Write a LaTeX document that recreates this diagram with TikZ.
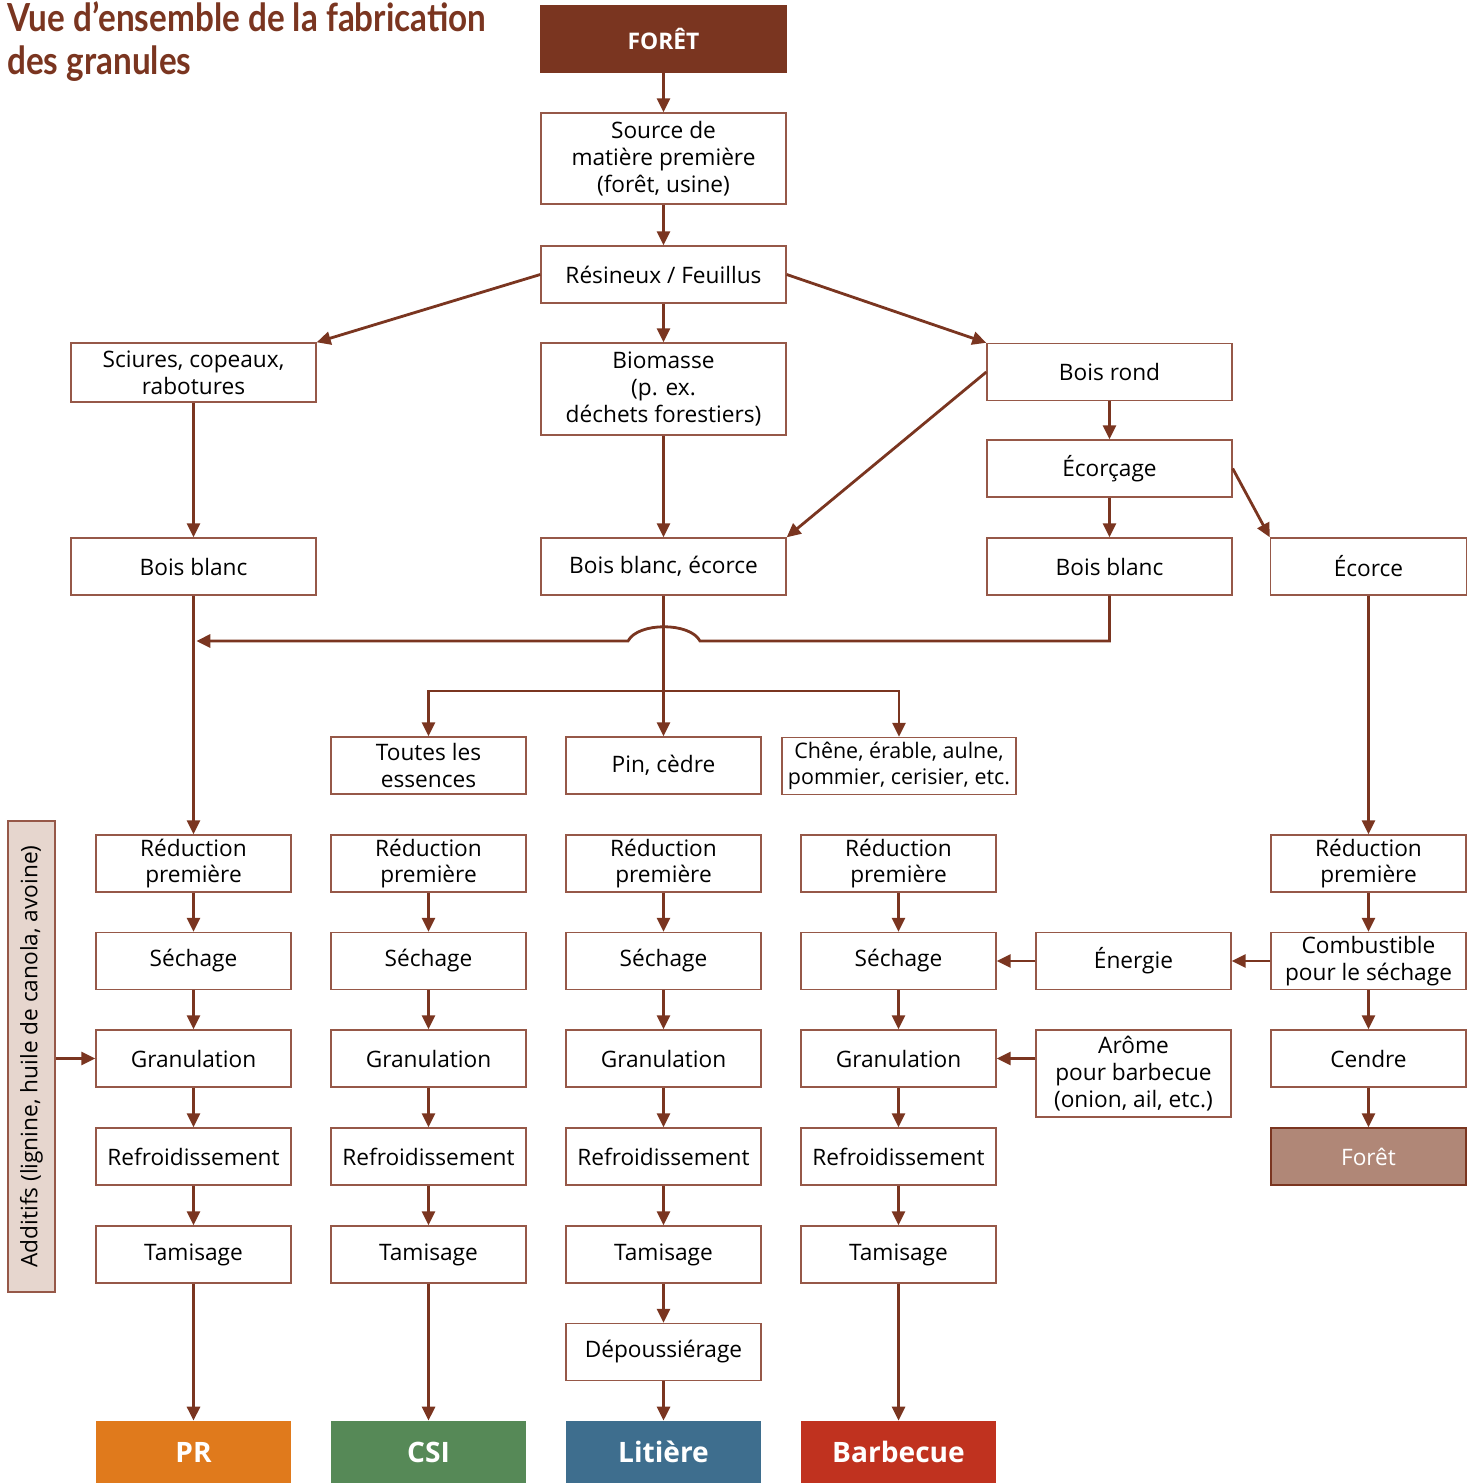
\documentclass[tikz,border=0pt]{standalone}
\usepackage{fontspec}
\setmainfont{Open Sans}
\newfontfamily\titlefont[FakeStretch=0.86]{Lato}
\usetikzlibrary{arrows.meta,positioning,calc}
\definecolor{rustbrown}{RGB}{122,53,32}
\definecolor{boxedge}{RGB}{150,88,72}
\definecolor{forestpink}{RGB}{176,135,119}
\definecolor{additan}{RGB}{230,214,206}
\definecolor{prorange}{RGB}{224,122,28}
\definecolor{csigreen}{RGB}{86,137,87}
\definecolor{litblue}{RGB}{62,110,142}
\definecolor{bbqred}{RGB}{192,50,31}
\tikzset{
    % Process box
    procbox/.style={draw=boxedge,line width=0.8pt,fill=white,minimum width=3.9cm,minimum height=1.14cm,align=center,inner sep=2pt,font=\fontsize{12.9}{15.2}\selectfont},
    % Wide process box
    widebox/.style={procbox,minimum width=4.9cm},
    % Final product box
    endbox/.style={minimum width=3.9cm,minimum height=1.24cm,inner sep=0pt,font=\fontsize{16}{18}\selectfont\bfseries,text=white},
    % Flow arrow
    flow/.style={-{Triangle[length=0.28cm,width=0.26cm]},line width=1.6pt,rustbrown}
}

\begin{document}
\begin{tikzpicture}[x=0.02cm,y=-0.02cm]
    \useasboundingbox (0,0) rectangle (1476,1483);

    % Title
    \node[anchor=north west,inner sep=0pt,align=left,text=rustbrown,font=\titlefont\fontsize{22}{24.5}\selectfont\bfseries] (title) at (7,1) {Vue d’ensemble de la fabrication\\des granules};

    % Upper part
    \node[widebox,fill=rustbrown,draw=rustbrown,text=white,minimum height=1.32cm,font=\fontsize{13}{15}\selectfont\bfseries] (foret) at (663.5,39) {FORÊT};
    \node[widebox,minimum height=1.82cm] (source) at (663.5,158.5) {Source de\\matière première\\(forêt, usine)};
    \node[widebox] (resineux) at (663.5,274.5) {Résineux / Feuillus};
    \node[widebox,minimum height=1.18cm] (sciures) at (193.5,372.5) {Sciures, copeaux,\\rabotures};
    \node[widebox,minimum height=1.84cm] (biomasse) at (663.5,389) {Biomasse\\(p. ex.\\déchets forestiers)};
    \node[widebox] (boisrond) at (1109.5,372) {Bois rond};
    \node[widebox] (ecorcage) at (1109.5,468.5) {Écorçage};
    \node[widebox] (bbl) at (193.5,566.5) {Bois blanc};
    \node[widebox] (bbe) at (663.5,566.5) {Bois blanc, écorce};
    \node[widebox] (bbr) at (1109.5,566.5) {Bois blanc};
    \node[procbox,minimum width=3.92cm] (ecorce) at (1368.5,566.5) {Écorce};

    \draw[flow] (foret) -- (source);
    \draw[flow] (source) -- (resineux);
    \draw[flow] (resineux) -- (biomasse);
    \draw[flow] (resineux.west) -- (sciures.north east);
    \draw[flow] (resineux.east) -- (boisrond.north west);
    \draw[flow] (boisrond.west) -- (bbe.north east);
    \draw[flow] (ecorcage.east) -- (ecorce.north west);
    \draw[flow] (boisrond) -- (ecorcage);
    \draw[flow] (ecorcage) -- (bbr);
    \draw[flow] (sciures) -- (bbl);
    \draw[flow] (biomasse) -- (bbe);

    % Species
    \node[procbox] (toutes) at (428.5,765.5) {Toutes les\\essences};
    \node[procbox] (pin) at (663.5,765.5) {Pin, cèdre};
    \node[procbox,minimum width=4.68cm,font=\fontsize{12.2}{15.2}\selectfont] (chene) at (899,766) {Chêne, érable, aulne,\\pommier, cerisier, etc.};

    % Four processing columns
    \foreach \c/\x in {1/193.5,2/428.5,3/663.5,4/898.5}{
        \node[procbox] (red\c) at (\x,863.5) {Réduction\\première};
        \node[procbox] (sech\c) at (\x,961) {Séchage};
        \node[procbox] (gran\c) at (\x,1058.5) {Granulation};
        \node[procbox] (refr\c) at (\x,1156.5) {Refroidissement};
        \node[procbox] (tam\c) at (\x,1254.5) {Tamisage};
        \draw[flow] (red\c) -- (sech\c);
        \draw[flow] (sech\c) -- (gran\c);
        \draw[flow] (gran\c) -- (refr\c);
        \draw[flow] (refr\c) -- (tam\c);
    }
    \node[procbox] (depous) at (663.5,1352) {Dépoussiérage};
    \draw[flow] (tam3) -- (depous);

    % Products
    \node[endbox,fill=prorange] (pr) at (193.5,1452) {PR};
    \node[endbox,fill=csigreen] (csi) at (428.5,1452) {CSI};
    \node[endbox,fill=litblue] (litiere) at (663.5,1452) {Litière};
    \node[endbox,fill=bbqred] (bbq) at (898.5,1452) {Barbecue};
    \draw[flow] (tam1) -- (pr);
    \draw[flow] (tam2) -- (csi);
    \draw[flow] (depous) -- (litiere);
    \draw[flow] (tam4) -- (bbq);

    % Bark column
    \node[procbox] (red6) at (1368.5,863.5) {Réduction\\première};
    \node[procbox] (combust) at (1368.5,961) {Combustible\\pour le séchage};
    \node[procbox] (cendre) at (1368.5,1058.5) {Cendre};
    \node[procbox,fill=forestpink,draw=rustbrown,text=white] (foret2) at (1368.5,1156.5) {Forêt};
    \node[procbox] (energie) at (1133.5,961) {Énergie};
    \node[procbox,minimum height=1.74cm] (arome) at (1133.5,1073.5) {Arôme\\pour barbecue\\(onion, ail, etc.)};
    \draw[flow] (ecorce) -- (red6);
    \draw[flow] (red6) -- (combust);
    \draw[flow] (combust) -- (cendre);
    \draw[flow] (cendre) -- (foret2);
    \draw[flow] (combust) -- (energie);
    \draw[flow] (energie) -- (sech4);
    \draw[flow] (arome.west |- gran4) -- (gran4.east);

    % Additives
    \node[procbox,fill=additan,rotate=90,minimum width=9.42cm,minimum height=0.94cm] (additifs) at (31.5,1056.5) {Additifs (lignine, huile de canola, avoine)};
    \draw[flow] (additifs.south |- gran1) -- (gran1.west);

    % Main links with hop-over
    \coordinate (hopR) at (700,641);
    \coordinate (hopL) at (628,641);
    \coordinate (split) at (663.5,691);
    \draw[flow] (bbl) -- (red1);
    \draw[flow] (bbr.south) |- (hopR) .. controls (690,622) and (638,622) .. (hopL) -- ([xshift=1.6pt]bbl.south |- hopL);
    \draw[flow] (bbe) -- (pin);
    \draw[flow] (split) -| (toutes.north);
    \draw[flow] (split) -| (chene.north);
\end{tikzpicture}
\end{document}
